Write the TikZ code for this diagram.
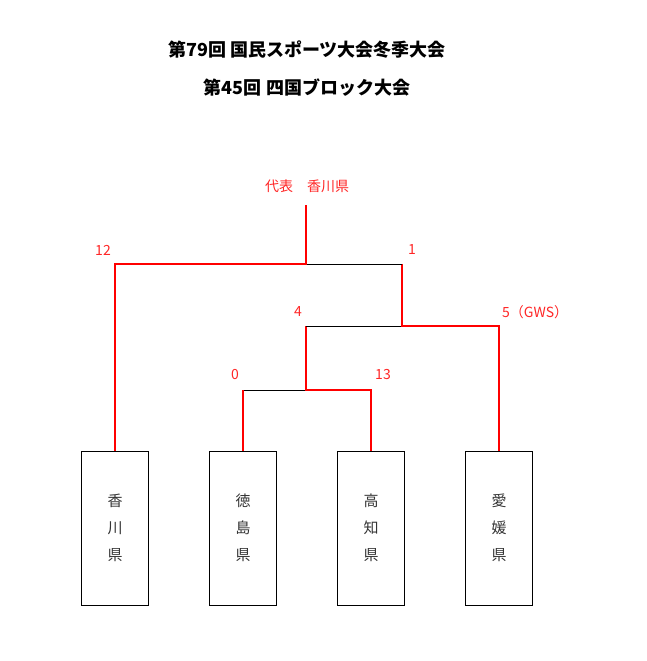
\documentclass[tikz,border=0pt]{standalone}
\usepackage{fontspec}
\newfontfamily\cjk{Noto Sans CJK JP}
\begin{document}
\begin{tikzpicture}[x=1pt,y=-1pt,
  win/.style={draw=red,line width=1.6pt},
  lose/.style={draw=black,line width=0.8pt},
  team/.style={draw=black,line width=0.8pt,minimum width=67pt,minimum height=154pt,inner sep=0pt,font=\cjk\fontsize{15}{27}\selectfont,text=black!80,align=center},
  score/.style={text=red!85!white,font=\cjk\fontsize{14}{16}\selectfont,inner sep=0pt},
  ttl/.style={font=\cjk\bfseries\fontsize{18}{20}\selectfont,inner sep=0pt}]
\useasboundingbox (0,0) rectangle (647,661);
\node[ttl] (t1) at (307,50) {第79回 国民スポーツ大会冬季大会};
\node[ttl] (t2) at (307,88) {第45回 四国ブロック大会};
\node[team] (ka) at (115,528) {香\\川\\県};
\node[team] (to) at (243,528) {徳\\島\\県};
\node[team] (ko) at (371,528) {高\\知\\県};
\node[team] (eh) at (499,528) {愛\\媛\\県};
\coordinate (s1) at (306,390);
\coordinate (s2) at (306,326);
\coordinate (f1) at (402,326);
\coordinate (fin) at (306,264);
\coordinate (top) at (306,205);
\node[score] (champ) at (307,186) {代表\quad 香川県};
\node[score] (sc12) at (103,250) {12};
\node[score] (sc1) at (412,250) {1};
\node[score] (sc4) at (298,312) {4};
\node[score,anchor=west] (sc5) at (502,312) {5（GWS）};
\node[score] (sc0) at (235,375) {0};
\node[score] (sc13) at (383,375) {13};
\draw[lose] (to.north |- s1) -- (s1);
\draw[win] (to.north) -- (to.north |- s1);
\draw[win] (ko.north) -- (ko.north |- s1) -- (s1) -- (s2);
\draw[lose] (s2) -- (f1);
\draw[win] (eh.north) -- (eh.north |- s2) -- (f1) -- (f1 |- fin);
\draw[lose] (fin) -- (f1 |- fin);
\draw[win] (ka.north) -- (ka.north |- fin) -- (fin) -- (top);
\end{tikzpicture}
\end{document}
